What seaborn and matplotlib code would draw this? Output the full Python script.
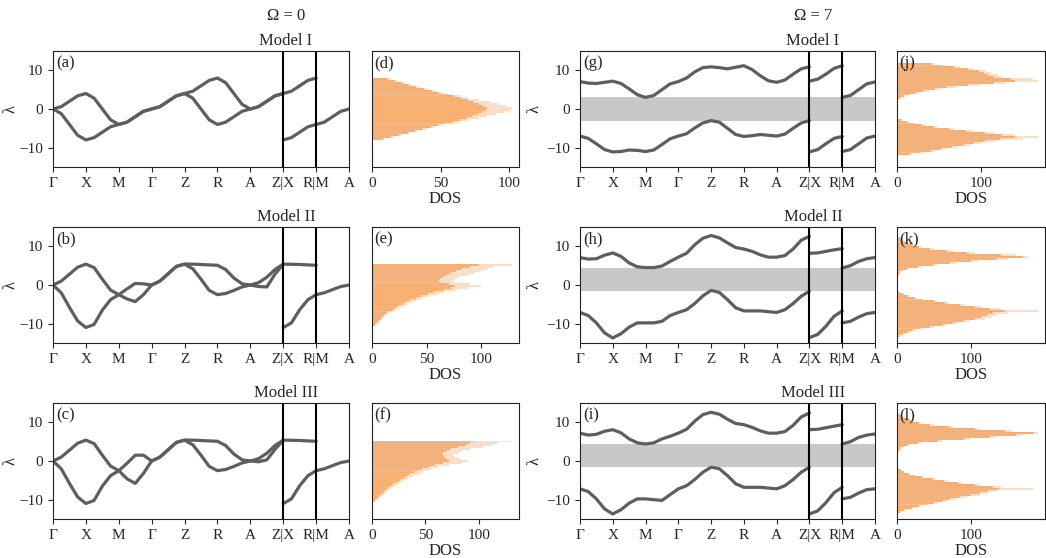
import numpy as np
import pandas as pd
import matplotlib
matplotlib.use("Agg")
import matplotlib.pyplot as plt
import seaborn as sns

sns.set_style("ticks")
plt.rcParams["font.family"] = ["Liberation Serif", "DejaVu Serif"]
plt.rcParams["axes.edgecolor"] = "#222222"

# ---- k-path (9 equal segments) ----
k_ticks = [0, 1, 2, 3, 4, 5, 6, 7, 8, 9]
k_labels = ["Γ", "X", "M", "Γ", "Z", "R", "A", "Z|X", "R|M", "A"]
k_main = np.arange(0, 7.01, 0.25)   # Γ-X-M-Γ-Z-R-A-Z
k_xr = np.arange(7, 8.01, 0.25)     # X-R
k_ma = np.arange(8, 9.01, 0.25)     # M-A

# ---- band values (Ω = 0) ----
a_up = [0.0, 0.6, 2.0, 3.4, 4.0, 2.8, 0.0, -2.8, -4.0, -3.4, -2.0, -0.6, 0.0, 0.6, 2.0, 3.4, 4.0,
        4.6, 6.0, 7.4, 8.0, 6.8, 4.0, 1.2, 0.0, 0.6, 2.0, 3.4, 4.0]
a_lo = [0.0, -1.2, -4.0, -6.8, -8.0, -7.4, -6.0, -4.6, -4.0, -3.4, -2.0, -0.6, 0.0, 0.6, 2.0, 3.4, 4.0,
        2.8, 0.0, -2.8, -4.0, -3.4, -2.0, -0.6, 0.0, 0.6, 2.0, 3.4, 4.0]
a_xr = [[4.0, 4.6, 6.0, 7.4, 8.0], [-8.0, -7.4, -6.0, -4.6, -4.0]]
a_ma = [[-4.0, -3.4, -2.0, -0.6, 0.0]]

b_up = [0.0, 1.0, 2.8, 4.6, 5.4, 4.5, 1.5, -1.3, -2.5, -1.0, 0.4, 0.3, 0.0, 1.0, 2.9, 4.8, 5.4,
        5.4, 5.3, 5.2, 5.1, 4.0, 1.8, 0.3, 0.0, 0.6, 2.0, 4.0, 5.4]
b_lo = [0.0, -2.0, -5.8, -9.3, -11.0, -10.2, -6.5, -3.8, -2.5, -3.6, -4.3, -2.5, 0.0, 1.0, 2.9, 4.8, 5.4,
        4.2, 1.5, -1.4, -2.5, -2.2, -1.4, -0.5, 0.0, -0.4, -0.5, 2.8, 5.4]
b_xr = [[5.4, 5.35, 5.3, 5.2, 5.1], [-11.0, -9.8, -6.4, -3.8, -2.5]]
b_ma = [[-2.5, -2.0, -1.2, -0.4, 0.0]]

c_up = [0.0, 1.0, 2.8, 4.6, 5.4, 4.5, 1.5, -1.3, -2.5, -0.6, 1.5, 1.5, 0.0, 1.0, 2.9, 4.8, 5.4,
        5.4, 5.3, 5.2, 5.1, 4.0, 1.8, 0.3, 0.0, 0.6, 2.0, 4.0, 5.4]
c_lo = [0.0, -2.0, -5.8, -9.3, -11.0, -10.2, -6.5, -3.8, -2.5, -4.6, -5.8, -3.2, 0.0, 1.0, 2.9, 4.8, 5.4,
        4.2, 1.5, -1.4, -2.5, -2.2, -1.4, -0.5, 0.0, -0.2, 0.3, 3.0, 5.4]
c_xr = [[5.4, 5.35, 5.3, 5.2, 5.1], [-11.0, -9.8, -6.4, -3.8, -2.5]]
c_ma = [[-2.5, -2.0, -1.2, -0.4, 0.0]]

# ---- band values (Ω = 7) ----
g_up = [7.1, 6.7, 6.6, 6.9, 7.2, 6.6, 5.2, 3.7, 3.0, 3.5, 5.0, 6.5, 7.1, 8.0, 9.6, 10.7, 10.9,
        10.7, 10.4, 10.8, 11.2, 10.2, 8.6, 7.3, 6.9, 7.5, 9.0, 10.4, 10.9]
g_lo = [-7.0, -7.6, -9.0, -10.5, -11.1, -11.0, -10.6, -10.7, -11.0, -10.6, -9.2, -7.7, -7.0,
        -6.4, -4.9, -3.6, -3.0, -3.4, -5.0, -6.6, -7.1, -6.9, -6.6, -6.8, -7.0, -6.5, -5.0, -3.6, -3.0]
g_xr = [[7.2, 7.7, 9.0, 10.5, 11.2], [-11.1, -10.5, -9.0, -7.6, -7.1]]
g_ma = [[3.0, 3.5, 5.0, 6.5, 7.0], [-11.0, -10.5, -9.0, -7.5, -7.0]]

h_up = [7.1, 6.7, 6.8, 7.7, 8.3, 7.4, 5.7, 4.7, 4.5, 4.5, 4.9, 6.1, 7.2, 8.2, 10.4, 12.1, 12.8,
        12.2, 10.9, 9.7, 9.3, 8.7, 7.8, 7.2, 7.2, 7.6, 9.3, 11.6, 12.6]
h_lo = [-7.1, -7.9, -9.8, -12.4, -13.7, -12.6, -10.9, -9.8, -9.8, -9.8, -9.4, -7.9, -7.1,
        -6.4, -4.8, -2.8, -1.4, -1.9, -3.8, -5.9, -6.7, -6.7, -6.7, -6.9, -7.1, -6.4, -4.8, -2.9, -1.6]
h_xr = [[8.2, 8.3, 8.7, 9.1, 9.4], [-13.6, -12.8, -10.7, -8.1, -6.7]]
h_ma = [[4.4, 5.0, 6.1, 6.8, 7.1], [-9.8, -9.4, -8.3, -7.4, -7.1]]

i_up = [7.2, 6.7, 6.9, 7.7, 8.1, 7.3, 5.7, 4.7, 4.4, 4.7, 5.7, 6.4, 7.2, 8.2, 10.3, 12.0, 12.6,
        12.1, 10.8, 9.7, 9.4, 8.7, 7.8, 7.2, 7.2, 7.6, 9.2, 11.4, 12.4]
i_lo = [-7.2, -7.9, -9.8, -12.4, -13.7, -12.6, -10.9, -9.8, -9.8, -10.0, -10.2, -8.7, -7.2,
        -6.4, -4.8, -2.9, -1.6, -2.0, -3.8, -5.9, -6.8, -6.8, -6.8, -7.0, -7.2, -6.4, -4.8, -2.9, -1.6]
i_xr = [[8.1, 8.2, 8.6, 9.0, 9.4], [-13.7, -12.9, -10.8, -8.2, -6.8]]
i_ma = [[4.4, 5.0, 6.1, 6.7, 7.0], [-9.8, -9.4, -8.3, -7.4, -7.2]]

gap_g = (-3.0, 3.0)
gap_h = (-1.5, 4.4)
gap_i = (-1.6, 4.4)

# ---- DOS histograms (bin width 0.5), dark = bulk, light = spikier outer part ----
BIN = 0.5
d_start = -8.0
d_dark = [8, 14, 20, 26, 31, 37, 43, 48, 54, 59, 64, 69, 73, 77, 80, 83,
          84, 81, 78, 74, 70, 65, 60, 55, 49, 44, 38, 32, 27, 22, 17, 12]
d_light = [9, 16, 22, 28, 33, 40, 46, 52, 58, 63, 70, 78, 84, 90, 97, 101,
           102, 98, 92, 86, 78, 70, 64, 58, 52, 46, 40, 34, 29, 24, 18, 14]

e_start = -10.6
e_dark = [3, 5, 6, 8, 9, 11, 14, 16, 19, 21, 24, 28, 31, 35, 40, 45,
          51, 57, 66, 72, 76, 70, 64, 61, 62, 65, 69, 72, 77, 82, 90, 98]
e_light = [4, 6, 8, 10, 11, 13, 16, 19, 22, 25, 28, 32, 36, 41, 46, 52,
           60, 66, 78, 88, 100, 90, 80, 74, 76, 80, 88, 94, 100, 106, 112, 128]

f_start = -10.7
f_dark = [3, 4, 6, 7, 9, 11, 13, 15, 18, 20, 23, 26, 30, 33, 36, 40,
          43, 47, 53, 59, 66, 72, 70, 67, 66, 66, 70, 74, 80, 88, 92, 96]
f_light = [4, 5, 7, 9, 11, 13, 15, 18, 21, 24, 27, 30, 34, 38, 44, 48,
           52, 56, 62, 72, 84, 90, 82, 78, 76, 80, 84, 92, 104, 112, 118, 131]

j_up_start, j_lo_start = 2.5, -12.0
j_up_dark = [3, 8, 14, 22, 32, 45, 60, 85, 115, 140, 135, 115, 108, 103, 98, 85, 68, 55, 40]
j_up_light = [5, 10, 17, 26, 38, 52, 70, 100, 130, 168, 162, 125, 120, 112, 106, 92, 75, 60, 45]
j_lo_dark = [15, 28, 40, 52, 65, 80, 92, 105, 122, 140, 125, 105, 82, 62, 44, 30, 20, 12, 5]
j_lo_light = [18, 32, 45, 58, 72, 88, 100, 118, 150, 168, 140, 115, 90, 68, 48, 34, 23, 14, 7]

k_up_start, k_lo_start = 2.0, -13.5
k_up_dark = [2, 3, 4, 7, 13, 28, 48, 72, 100, 135, 170, 140, 95, 68, 45, 30, 21, 15, 11, 7, 4]
k_up_light = [3, 4, 6, 9, 16, 32, 54, 80, 110, 150, 176, 160, 105, 75, 50, 34, 24, 17, 12, 8, 5]
k_lo_dark = [3, 8, 15, 22, 32, 45, 62, 75, 90, 105, 115, 122, 130, 145, 125, 105, 85, 65, 50, 35, 24, 15, 8, 3]
k_lo_light = [4, 10, 18, 26, 36, 50, 68, 82, 98, 118, 128, 135, 150, 190, 140, 115, 92, 70, 54, 38, 26, 17, 9, 4]

l_up_start, l_lo_start = 2.0, -13.5
l_up_dark = [2, 3, 5, 9, 15, 28, 55, 90, 125, 160, 185, 145, 105, 70, 45, 30, 20, 14, 10, 6, 3]
l_up_light = [3, 4, 6, 11, 18, 32, 60, 98, 134, 170, 190, 155, 112, 76, 50, 33, 22, 15, 11, 7, 4]
l_lo_dark = [4, 10, 20, 30, 40, 50, 62, 72, 85, 100, 112, 122, 138, 130, 105, 82, 64, 48, 34, 24, 16, 10, 5, 2]
l_lo_light = [5, 12, 22, 33, 44, 55, 68, 80, 95, 112, 122, 135, 185, 140, 112, 88, 68, 52, 37, 26, 18, 11, 6, 3]

BAND_COLOR = "#5e5e5e"
DOS_COLOR = "#F4A460"
W, H = 1046, 558


def rect(left, top, width, height):
    return [left / W, 1 - (top + height) / H, width / W, height / H]


def draw_bands(ax, main, xr, ma, label, lab_x, gap=None):
    if gap is not None:
        ax.axhspan(gap[0], gap[1], color="#c8c8c8", lw=0, zorder=0)
    for kk, curves in ((k_main, main), (k_xr, xr), (k_ma, ma)):
        for yy in curves:
            sns.lineplot(x=kk, y=yy, ax=ax, color=BAND_COLOR, lw=2.3,
                         sort=False, estimator=None, solid_joinstyle="round")
    for xv in (7, 8):
        ax.axvline(xv, color="black", lw=1.5)
    ax.set_xlim(0, 9)
    ax.set_ylim(-15, 15)
    ax.set_xticks(k_ticks)
    ax.set_xticklabels(k_labels)
    ax.set_yticks([-10, 0, 10])
    ax.set_ylabel("λ", fontsize=12)
    ax.yaxis.set_label_coords(lab_x, 0.5)
    ax.set_xlabel("")
    ax.tick_params(labelsize=11, length=3.5)
    ax.text(0.01, 0.965, label, transform=ax.transAxes, ha="left", va="top", fontsize=12)


def draw_dos(ax, lobes, xmax, xticks, label):
    for start, dark, light in lobes:
        centers = start + BIN / 2 + BIN * np.arange(len(dark))
        df = pd.DataFrame({"lam": centers, "dark": dark, "light": light})
        rng = (start, start + BIN * len(dark))
        sns.histplot(data=df, y="lam", weights="light", binwidth=BIN, binrange=rng, ax=ax,
                     color=DOS_COLOR, alpha=0.4, edgecolor=(1, 1, 1, 0.6), linewidth=0.25)
        sns.histplot(data=df, y="lam", weights="dark", binwidth=BIN, binrange=rng, ax=ax,
                     color=DOS_COLOR, alpha=1.0, edgecolor=(1, 1, 1, 0.6), linewidth=0.25)
    ax.set_xlim(0, xmax)
    ax.set_ylim(-15, 15)
    ax.set_xticks(xticks)
    ax.set_xlabel("DOS", fontsize=12, labelpad=1)
    ax.set_ylabel("")
    ax.tick_params(axis="y", left=False, labelleft=False)
    ax.tick_params(axis="x", labelsize=11, length=3.5)
    ax.text(0.015, 0.965, label, transform=ax.transAxes, ha="left", va="top", fontsize=12)


fig = plt.figure(figsize=(10.46, 5.58), dpi=100)

rows = [
    ("Model I", (a_up, a_lo), a_xr, a_ma, (g_up, g_lo), g_xr, g_ma, gap_g,
     [(d_start, d_dark, d_light)], 107,
     [(j_up_start, j_up_dark, j_up_light), (j_lo_start, j_lo_dark, j_lo_light)], 176),
    ("Model II", (b_up, b_lo), b_xr, b_ma, (h_up, h_lo), h_xr, h_ma, gap_h,
     [(e_start, e_dark, e_light)], 134.5,
     [(k_up_start, k_up_dark, k_up_light), (k_lo_start, k_lo_dark, k_lo_light)], 199.5),
    ("Model III", (c_up, c_lo), c_xr, c_ma, (i_up, i_lo), i_xr, i_ma, gap_i,
     [(f_start, f_dark, f_light)], 137.5,
     [(l_up_start, l_up_dark, l_up_light), (l_lo_start, l_lo_dark, l_lo_light)], 199.5),
]
tops = [51, 227, 403]
left_labels = ["(a)", "(b)", "(c)"]
dos_left_labels = ["(d)", "(e)", "(f)"]
right_labels = ["(g)", "(h)", "(i)"]
dos_right_labels = ["(j)", "(k)", "(l)"]

for r, (title, m0, xr0, ma0, m7, xr7, ma7, gap, dos0, xmax0, dos7, xmax7) in enumerate(rows):
    top = tops[r]
    ax = fig.add_axes(rect(53, top, 296, 116))
    draw_bands(ax, m0, xr0, ma0, left_labels[r], -0.115)
    ax = fig.add_axes(rect(580, top, 295, 116))
    draw_bands(ax, m7, xr7, ma7, right_labels[r], -0.128, gap=gap)
    ax = fig.add_axes(rect(372, top, 147, 116))
    draw_dos(ax, dos0, xmax0, [0, 50, 100], dos_left_labels[r])
    ax = fig.add_axes(rect(897, top, 148, 116))
    draw_dos(ax, dos7, xmax7, [0, 100], dos_right_labels[r])

    fig.text(286 / W, 1 - (top - 6) / H, title, ha="center", va="baseline", fontsize=12)
    fig.text(813 / W, 1 - (top - 6) / H, title, ha="center", va="baseline", fontsize=12)

fig.text(286 / W, 1 - 20 / H, "Ω = 0", ha="center", va="baseline", fontsize=12)
fig.text(813 / W, 1 - 20 / H, "Ω = 7", ha="center", va="baseline", fontsize=12)

fig.savefig("out.png", dpi=100)
plt.close(fig)
